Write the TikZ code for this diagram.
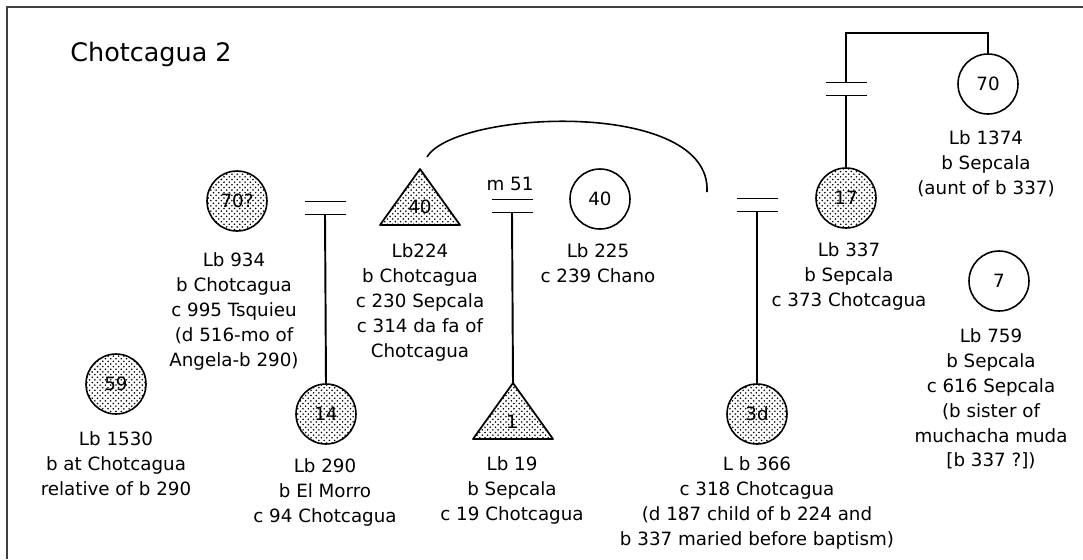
\documentclass[tikz,border=0pt]{standalone}
\usepackage{fontspec}
\setmainfont{DejaVu Sans}
\usetikzlibrary{patterns,calc}
\tikzstyle{person} = [circle, draw=black, line width=0.9pt, minimum size=1.2cm, inner sep=0pt, font=\fontsize{10.4}{12}\selectfont]
\tikzstyle{stipplefill} = [pattern=crosshatch dots, pattern color=black]
\tikzstyle{stipple} = [person, stipplefill]
\tikzstyle{note} = [align=center, inner sep=0pt, anchor=north, font=\fontsize{10.4}{14.2}\selectfont]
\tikzstyle{kin} = [line width=1.1pt]

\begin{document}
\begin{tikzpicture}[x=0.02cm, y=-0.02cm]
	\useasboundingbox (0,0) rectangle (1083,559);
	%% frame (only top and left edge show)
	\draw[line width=1.2pt, black!75] (7,559) -- (7,7) -- (1083,7);

	\node[font=\fontsize{14.5}{16}\selectfont] (title) at (151,54) {Chotcagua 2};

	%% women (circles)
	\node[stipple] (P70q) at (237,201) {70?};
	\node[stipple] (P14) at (326,414) {14};
	\node[stipple] (P59) at (116,384) {59};
	\node[person] (P40) at (600,199) {40};
	\node[stipple] (P17) at (846,198) {17};
	\node[person] (P70) at (988,84) {70};
	\node[person] (P7) at (999,281) {7};
	\node[stipple] (P3d) at (757,414) {3d};

	%% men (triangles), apex given
	\coordinate (T40) at (420,169);
	\coordinate (T1) at (513,383);
	\draw[line width=1pt, line join=round, stipplefill] (T40) -- ++(-40,56) -- ++(80,0) -- cycle;
	\draw[line width=1pt, line join=round, stipplefill] (T1) -- ++(-40,56) -- ++(80,0) -- cycle;
	\node[font=\fontsize{10.4}{12}\selectfont, inner sep=1pt] (Q40) at (420,207) {40};
	\node[font=\fontsize{10.4}{12}\selectfont, inner sep=1pt] (Q1) at (512,422) {1};

	%% marriages (=)
	\coordinate (M1) at (325,208);
	\coordinate (M2) at (512,206);
	\coordinate (M3) at (757,205);
	\coordinate (M4) at (846,89);
	\foreach \m in {M1,M2,M3,M4}
	{
	  \draw[kin] ($(\m)+(-20,-6.5)$) -- ++(41,0);
	  \draw[kin] ($(\m)+(-20,6.5)$) -- ++(41,0);
	}
	\node[font=\fontsize{10.4}{12}\selectfont] (m51) at (510,184) {m 51};

	%% descent lines
	\draw[kin] (M1) ++(0,6.5) -- (P14.north);
	\draw[kin] (M2) ++(0,6.5) -- (T1);
	\draw[kin] (M3) ++(0,6.5) -- (P3d.north);
	\draw[kin] (P17.north) -- ($(M4)+(0,6.5)$);
	\draw[kin] ($(M4)+(0,-6.5)$) -- (846,33) -| (P70.north);

	%% arc from b 224 over to the right marriage
	\coordinate (A1) at (427,157);
	\coordinate (A2) at (707,192);
	\draw[line width=0.9pt] (A1) .. controls (455,110) and (712,98) .. (A2);

	%% notes
	\node[note] (L59) at (116,431) {Lb 1530\\b at Chotcagua\\relative of b 290};
	\node[note] (L70q) at (234,252) {Lb 934\\b Chotcagua\\c 995 Tsquieu\\(d 516-mo of\\Angela-b 290)};
	\node[note] (L14) at (325,458) {Lb 290\\b El Morro\\c 94 Chotcagua};
	\node[note] (L40m) at (420,243) {Lb224\\b Chotcagua\\c 230 Sepcala\\c 314 da fa of\\Chotcagua};
	\node[note] (L40) at (598,243) {Lb 225\\c 239 Chano};
	\node[note] (L1) at (512,456) {Lb 19\\b Sepcala\\c 19 Chotcagua};
	\node[note] (L3d) at (757,456) {L b 366\\c 318 Chotcagua\\(d 187 child of b 224 and\\b 337 maried before baptism)};
	\node[note] (L17) at (849,242) {Lb 337\\b Sepcala\\c 373 Chotcagua};
	\node[note] (L70) at (986,130) {Lb 1374\\b Sepcala\\(aunt of b 337)};
	\node[note] (L7) at (991,328) {Lb 759\\b Sepcala\\c 616 Sepcala\\(b sister of\\muchacha muda\\{[b 337 ?])}};
\end{tikzpicture}
\end{document}
